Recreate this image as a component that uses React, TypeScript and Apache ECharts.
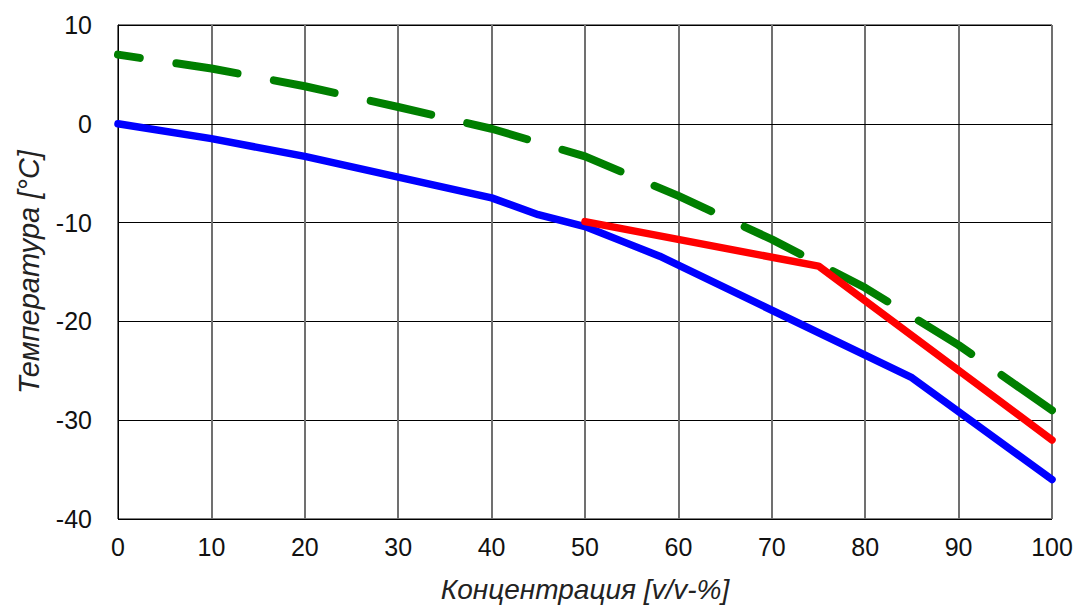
import React, { useEffect, useRef } from "react";
import * as echarts from "echarts";

const blueX = [0, 10, 20, 30, 40, 45, 50, 54, 58, 85, 100];
const blueY = [0, -1.5, -3.3, -5.4, -7.5, -9.2, -10.4, -11.9, -13.4, -25.7, -36.0];

const redX = [50, 75, 100];
const redY = [-9.9, -14.4, -32.0];

const greenX = [0, 10, 20, 30, 40, 50, 60, 70, 80, 90, 100];
const greenY = [7.0, 5.6, 3.8, 1.7, -0.5, -3.3, -7.3, -11.7, -16.6, -22.4, -29.0];

const xTicks = { min: 0, max: 100, interval: 10 };
const yTicks = { min: -40, max: 10, interval: 10 };

const xName = "Концентрация [v/v-%]";
const yName = "Температура [°C]";

const pairs = (xs: number[], ys: number[]) => xs.map((x, i) => [x, ys[i]]);

export default function App() {
  const ref = useRef<HTMLDivElement>(null);
  useEffect(() => {
    document.body.style.margin = "0";
    const chart = echarts.init(ref.current!, null, { renderer: "svg" });
    const font = "'Liberation Sans', Arial, sans-serif";
    chart.setOption({
      animation: false,
      backgroundColor: "#ffffff",
      grid: {
        left: 118,
        right: 31,
        top: 25,
        bottom: 88,
        show: true,
        borderColor: "#000",
        borderWidth: 1,
      },
      xAxis: {
        type: "value",
        ...xTicks,
        name: xName,
        nameLocation: "middle",
        nameGap: 56,
        nameTextStyle: { fontFamily: font, fontStyle: "italic", fontSize: 28, color: "#222" },
        axisLine: { show: true, lineStyle: { color: "#000", width: 1 } },
        axisTick: { show: false },
        axisLabel: { fontFamily: font, fontSize: 25, color: "#111", margin: 15 },
        splitLine: { show: true, lineStyle: { color: "#707070", width: 2 } },
      },
      yAxis: {
        type: "value",
        ...yTicks,
        name: yName,
        nameLocation: "middle",
        nameGap: 75,
        nameTextStyle: { fontFamily: font, fontStyle: "italic", fontSize: 29, color: "#222" },
        axisLine: { show: true, lineStyle: { color: "#000", width: 1 } },
        axisTick: { show: false },
        axisLabel: { fontFamily: font, fontSize: 25, color: "#111", margin: 26 },
        splitLine: { show: true, lineStyle: { color: "#000", width: 1.2 } },
      },
      series: [
        {
          type: "line",
          data: pairs(blueX, blueY),
          showSymbol: false,
          symbol: "none",
          lineStyle: { color: "#0000ff", width: 7.5, cap: "round", join: "round" },
          z: 2,
        },
        {
          type: "line",
          data: pairs(greenX, greenY),
          showSymbol: false,
          symbol: "none",
          lineStyle: {
            color: "#007f00",
            width: 8,
            type: [62, 37],
            dashOffset: 40,
            cap: "round",
            join: "round",
          },
          z: 3,
        },
        {
          type: "line",
          data: pairs(redX, redY),
          showSymbol: false,
          symbol: "none",
          lineStyle: { color: "#ff0000", width: 7.5, cap: "round", join: "round" },
          z: 4,
        },
      ],
    });
    return () => chart.dispose();
  }, []);
  return <div ref={ref} style={{ width: 1083, height: 608 }} />;
}
